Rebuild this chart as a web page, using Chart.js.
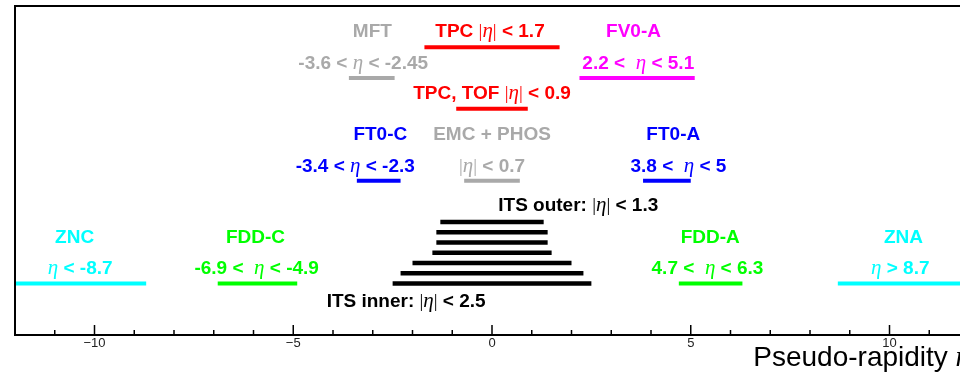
<!DOCTYPE html>
<html>
<head>
<meta charset="utf-8">
<script src="https://cdn.jsdelivr.net/npm/chart.js@4.4.1/dist/chart.umd.min.js"></script>
<style>
  html, body { margin: 0; padding: 0; background: #fff; overflow: hidden; }
  #wrap { width: 960px; height: 374px; overflow: hidden; }
</style>
</head>
<body>
<div id="wrap"><canvas id="acceptance" width="976" height="374"></canvas></div>
<script>
// Detector coverage in pseudo-rapidity
const detectors = ["TPC", "MFT", "FV0-A", "TPC, TOF", "FT0-C", "EMC + PHOS", "FT0-A", "ZNC", "FDD-C", "FDD-A", "ZNA"];
const etaMin = [-1.7, -3.6, 2.2, -0.9, -3.4, -0.7, 3.8, -12, -6.9, 4.7, 8.7];
const etaMax = [1.7, -2.45, 5.1, 0.9, -2.3, 0.7, 5.0, -8.7, -4.9, 6.3, 12];
// ITS layers, outermost first (symmetric |eta| limit)
const itsLayerEta = [1.3, 1.4, 1.4, 1.5, 2.0, 2.3, 2.5];
const xTicks = [-10, -5, 0, 5, 10];

// vertical row of each bar (arbitrary layout units)
const detRow = [28, 25, 25, 22, 15, 15, 15, 5, 5, 5, 5];
const itsRow = [11, 10, 9, 8, 7, 6, 5];

const GRAY = "#a9a9a9";
const detColor = ["#ff0000", GRAY, "#ff00ff", "#ff0000", "#0000ff", GRAY, "#0000ff",
                  "#00ffff", "#00ff00", "#00ff00", "#00ffff"];

// text labels: [text, colour, centre x (eta), row]
const labels = [
  ["MFT", GRAY, -3.01, 29.67],
  ["TPC |η| < 1.7", "#ff0000", -0.05, 29.67],
  ["FV0-A", "#ff00ff", 3.56, 29.67],
  ["-3.6 < η < -2.45", GRAY, -3.24, 26.56],
  ["2.2 <  η < 5.1", "#ff00ff", 3.68, 26.56],
  ["TPC, TOF |η| < 0.9", "#ff0000", 0, 23.64],
  ["FT0-C", "#0000ff", -2.81, 19.65],
  ["EMC + PHOS", GRAY, 0, 19.65],
  ["FT0-A", "#0000ff", 4.56, 19.65],
  ["-3.4 < η < -2.3", "#0000ff", -3.44, 16.54],
  ["|η| < 0.7", GRAY, 0, 16.54],
  ["3.8 <  η < 5", "#0000ff", 4.69, 16.54],
  ["ITS outer: |η| < 1.3", "#000000", 2.17, 12.74],
  ["ZNC", "#00ffff", -10.5, 9.63],
  ["FDD-C", "#00ff00", -5.95, 9.63],
  ["FDD-A", "#00ff00", 5.49, 9.63],
  ["ZNA", "#00ffff", 10.35, 9.63],
  ["η < -8.7", "#00ffff", -10.36, 6.61],
  ["-6.9 <  η < -4.9", "#00ff00", -5.92, 6.61],
  ["4.7 <  η < 6.3", "#00ff00", 5.42, 6.61],
  ["η > 8.7", "#00ffff", 10.27, 6.61],
  ["ITS inner: |η| < 2.5", "#000000", -2.16, 3.4]
];

const datasets = detectors.map((name, i) => ({
  label: name,
  data: [{ x: etaMin[i], y: detRow[i] }, { x: etaMax[i], y: detRow[i] }],
  borderColor: detColor[i],
  borderWidth: 4
}));
itsLayerEta.forEach((eta, i) => {
  datasets.push({
    label: "ITS L" + (itsLayerEta.length - i),
    data: [{ x: -eta, y: itsRow[i] }, { x: eta, y: itsRow[i] }],
    borderColor: "#000000",
    borderWidth: 4.5
  });
});

const SANS = "'Liberation Sans', Arial, sans-serif";
const SERIF = "'Liberation Serif', 'Times New Roman', serif";

// splits text so eta and bars get the serif face
function segments(text, sansFont, etaFont, barFont) {
  const out = [];
  for (const ch of text) {
    const f = ch === "η" ? etaFont : ch === "|" ? barFont : sansFont;
    if (out.length && out[out.length - 1].font === f) out[out.length - 1].t += ch;
    else out.push({ t: ch, font: f });
  }
  return out;
}

function drawRich(ctx, segs, x, y, align) {
  let w = 0;
  segs.forEach(s => { ctx.font = s.font; s.w = ctx.measureText(s.t).width; w += s.w; });
  let cx = align === "right" ? x - w : x - w / 2;
  segs.forEach(s => { ctx.font = s.font; ctx.fillText(s.t, cx, y); cx += s.w; });
}

const decorations = {
  id: "decorations",
  afterDraw(chart) {
    const { ctx, chartArea: a, scales: { x, y } } = chart;
    ctx.save();
    ctx.textBaseline = "alphabetic";
    ctx.textAlign = "left";

    labels.forEach(([text, color, ex, row]) => {
      ctx.fillStyle = color;
      const segs = segments(text, "bold 19px " + SANS, "italic 21px " + SERIF, "19px " + SERIF);
      drawRich(ctx, segs, x.getPixelForValue(ex), y.getPixelForValue(row) + 7, "center");
    });

    // frame
    ctx.strokeStyle = "#000";
    ctx.lineWidth = 2;
    ctx.strokeRect(a.left, a.top, a.right - a.left, a.bottom - a.top);

    // inward tick marks, one per unit, longer every 5
    ctx.lineWidth = 1.5;
    ctx.beginPath();
    for (let v = Math.ceil(x.min); v <= x.max; v++) {
      const px = x.getPixelForValue(v);
      const len = v % 5 === 0 ? 10 : 5;
      ctx.moveTo(px, a.bottom);
      ctx.lineTo(px, a.bottom - len);
    }
    ctx.stroke();

    // axis title
    ctx.fillStyle = "#000";
    drawRich(ctx, segments("Pseudo-rapidity η", "28px " + SANS, "italic 29px " + SERIF, "28px " + SERIF),
      a.right + 1, a.bottom + 31, "right");
    ctx.restore();
  }
};

new Chart(document.getElementById("acceptance"), {
  type: "scatter",
  data: { datasets },
  options: {
    responsive: false,
    animation: false,
    showLine: true,
    elements: {
      point: { radius: 0, hoverRadius: 0 },
      line: { borderCapStyle: "butt", tension: 0 }
    },
    layout: { padding: { left: 15, right: 7, top: 6, bottom: 0 } },
    plugins: { legend: { display: false }, tooltip: { enabled: false } },
    scales: {
      x: {
        type: "linear",
        min: -12,
        max: 12,
        afterBuildTicks: s => { s.ticks = xTicks.map(v => ({ value: v })); },
        afterFit: s => { s.height = 39; },
        grid: { display: false, drawTicks: false },
        border: { display: false },
        ticks: {
          padding: 1,
          maxRotation: 0,
          autoSkip: false,
          color: "#222",
          font: { family: SANS, size: 13 },
          callback: v => (v < 0 ? "\u2212" + Math.abs(v) : String(v))
        }
      },
      y: { type: "linear", min: 0, max: 32, display: false }
    }
  },
  plugins: [decorations]
});
</script>
</body>
</html>
